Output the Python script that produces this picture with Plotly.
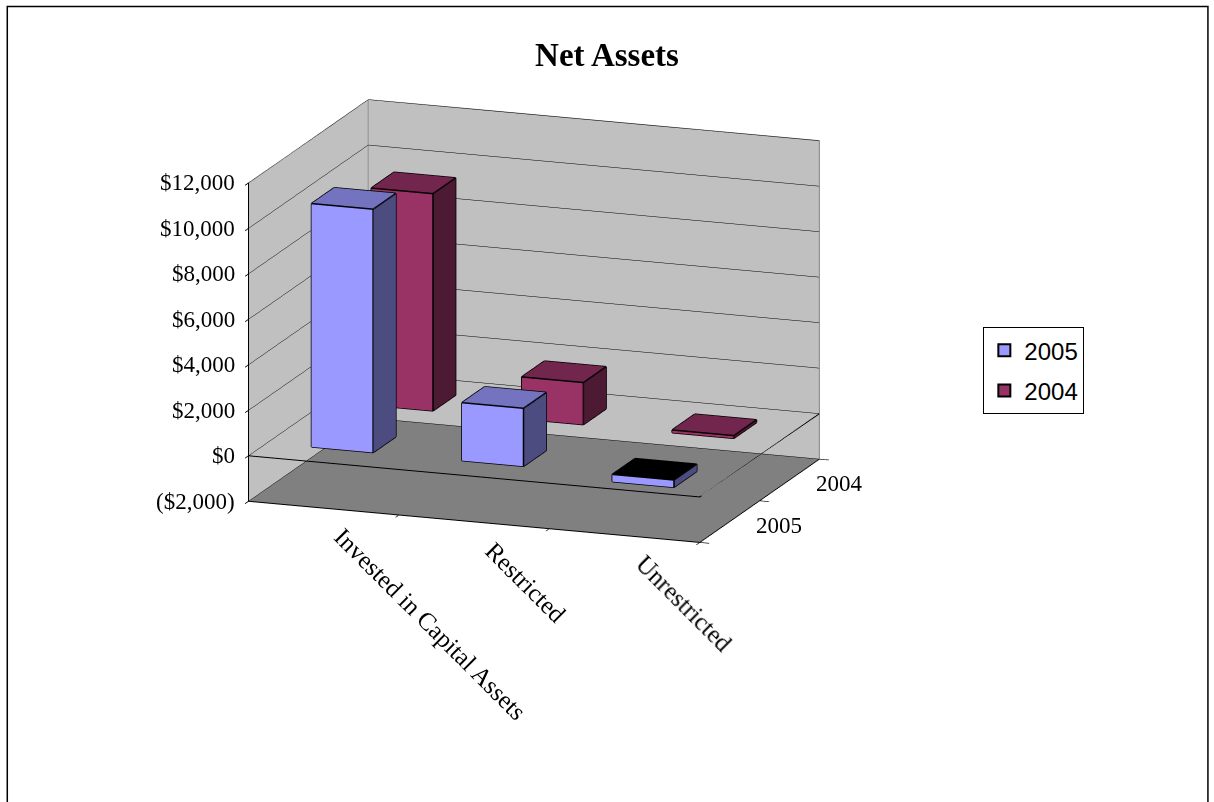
import math
import plotly.graph_objects as go

categories = ["Invested in Capital Assets", "Restricted", "Unrestricted"]
series_names = ["2005", "2004"]
values_2005 = [10700, 2550, -320]
values_2004 = [9550, 1850, 120]
z_tickvals = [-2000, 0, 2000, 4000, 6000, 8000, 10000, 12000]
z_ticktext = ["($2,000)", "$0", "$2,000", "$4,000", "$6,000", "$8,000", "$10,000", "$12,000"]

series_values = [values_2005, values_2004]
front_colors = ["#9999FF", "#993366"]
side_colors = ["#4C4C80", "#4D1A33"]
top_colors = ["#7373BF", "#73264D"]

BAR_W = 0.41
BAR_D = 0.38
SERIF = "Liberation Serif"
XR = [-0.5, len(categories) - 0.5]
YR = [-0.5, len(series_names) - 0.5]
ZR = [z_tickvals[0], z_tickvals[-1]]

fig = go.Figure()


def cuboid(xc, yc, v, front, side, top, neg_top):
    x0, x1 = xc - BAR_W / 2, xc + BAR_W / 2
    y0, y1 = yc - BAR_D / 2, yc + BAR_D / 2
    lo, hi = min(0, v), max(0, v)
    X = [x0, x1, x1, x0, x0, x1, x1, x0]
    Y = [y0, y0, y1, y1, y0, y0, y1, y1]
    Z = [lo, lo, lo, lo, hi, hi, hi, hi]
    tc = neg_top if v < 0 else top
    tris = [
        (0, 1, 2, side), (0, 2, 3, side),
        (4, 5, 6, tc), (4, 6, 7, tc),
        (0, 1, 5, front), (0, 5, 4, front),
        (3, 2, 6, side), (3, 6, 7, side),
        (0, 3, 7, side), (0, 7, 4, side),
        (1, 2, 6, side), (1, 6, 5, side),
    ]
    mesh = go.Mesh3d(
        x=X, y=Y, z=Z,
        i=[t[0] for t in tris], j=[t[1] for t in tris], k=[t[2] for t in tris],
        facecolor=[t[3] for t in tris], flatshading=True,
        lighting=dict(ambient=1, diffuse=0, specular=0, roughness=1, fresnel=0),
        hoverinfo="skip", showlegend=False, showscale=False,
    )
    edges = [(0, 1), (1, 2), (2, 3), (3, 0), (4, 5), (5, 6), (6, 7), (7, 4),
             (0, 4), (1, 5), (2, 6), (3, 7)]
    ex, ey, ez = [], [], []
    for a, b in edges:
        ex += [X[a], X[b], None]
        ey += [Y[a], Y[b], None]
        ez += [Z[a], Z[b], None]
    line = go.Scatter3d(x=ex, y=ey, z=ez, mode="lines",
                        line=dict(color="black", width=3),
                        hoverinfo="skip", showlegend=False)
    return mesh, line


for s, vals in enumerate(series_values):
    for c, v in enumerate(vals):
        m, l = cuboid(c, s, v, front_colors[s], side_colors[s], top_colors[s], "#000000")
        fig.add_trace(m)
        fig.add_trace(l)

# wall borders (gray) and the z=0 axis lines (black)
fig.add_trace(go.Scatter3d(
    x=[XR[0], XR[0], XR[1], XR[1], None, XR[0], XR[0]],
    y=[YR[0], YR[1], YR[1], YR[1], None, YR[1], YR[1]],
    z=[ZR[1], ZR[1], ZR[1], ZR[0], None, ZR[0], ZR[1]],
    mode="lines", line=dict(color="#808080", width=2), hoverinfo="skip", showlegend=False))
fig.add_trace(go.Scatter3d(
    x=[XR[0], XR[1], XR[1]], y=[YR[0], YR[0], YR[1]], z=[0, 0, 0],
    mode="lines", line=dict(color="black", width=2), hoverinfo="skip", showlegend=False))

# legend entries
for s, name in enumerate(series_names):
    fig.add_trace(go.Scatter(x=[None], y=[None], mode="markers", name=name, legendgroup=name,
                             marker=dict(symbol="square", size=16, color=front_colors[s],
                                         line=dict(color="black", width=1.5))))

annos = []
for c, cat in enumerate(categories):
    annos.append(dict(x=c, y=YR[0], z=ZR[0], text=cat, textangle=45, showarrow=False,
                      xanchor="left", yanchor="top", xshift=3, yshift=-12,
                      font=dict(family=SERIF, size=25, color="black")))
for v, t in zip(z_tickvals, z_ticktext):
    annos.append(dict(x=XR[0], y=YR[0], z=v, text=t, showarrow=False,
                      xanchor="right", yanchor="middle", xshift=-12,
                      font=dict(family=SERIF, size=23, color="black")))
for s, name in enumerate(series_names):
    annos.append(dict(x=XR[1], y=s, z=ZR[0], text=name, showarrow=False,
                      xanchor="left", yanchor="middle", xshift=24, yshift=-4,
                      font=dict(family=SERIF, size=23, color="black")))

D = 2.403
th, ph = math.radians(19.9), math.radians(14.6)
eye = dict(x=D * math.sin(th) * math.cos(ph), y=-D * math.cos(th) * math.cos(ph), z=D * math.sin(ph))

fig.update_layout(
    width=1214, height=802,
    margin=dict(l=0, r=0, t=0, b=0),
    paper_bgcolor="white", plot_bgcolor="white",
    xaxis=dict(visible=False), yaxis=dict(visible=False),
    title=dict(text="<b>Net Assets</b>", x=0.5, xanchor="center", y=0.932, yanchor="middle",
               font=dict(family=SERIF, size=33, color="black")),
    legend=dict(x=0.81, y=0.592, xanchor="left", yanchor="top",
                bordercolor="black", borderwidth=1, bgcolor="white",
                font=dict(family="Liberation Sans", size=24, color="black"),
                itemsizing="constant", tracegroupgap=6, itemwidth=30),
    scene=dict(
        domain=dict(x=[0.0, 0.88], y=[0.1996, 1.0]),
        aspectmode="manual", aspectratio=dict(x=1.495, y=1.095, z=1.025),
        camera=dict(eye=eye, center=dict(x=0, y=0, z=0), up=dict(x=0, y=0, z=1),
                    projection=dict(type="orthographic")),
        xaxis=dict(range=XR, tickvals=[-0.5, 0.5, 1.5, 2.5], showticklabels=False,
                   showgrid=False, showbackground=True, backgroundcolor="#C0C0C0",
                   showline=True, linecolor="black", linewidth=2,
                   ticks="outside", tickcolor="black", ticklen=10, tickwidth=2,
                   title=dict(text=""), zeroline=False, showspikes=False),
        yaxis=dict(range=YR, tickvals=[-0.5, 0.5, 1.5], showticklabels=False,
                   showgrid=False, showbackground=True, backgroundcolor="#C0C0C0",
                   showline=True, linecolor="black", linewidth=2,
                   ticks="outside", tickcolor="black", ticklen=10, tickwidth=2,
                   title=dict(text=""), zeroline=False, showspikes=False),
        zaxis=dict(range=ZR, tickvals=z_tickvals, showticklabels=False,
                   showgrid=True, gridcolor="black", gridwidth=1,
                   showbackground=True, backgroundcolor="#808080",
                   showline=True, linecolor="black", linewidth=2,
                   ticks="outside", tickcolor="black", ticklen=10, tickwidth=2,
                   title=dict(text=""), zeroline=False, showspikes=False),
        annotations=annos,
    ),
    shapes=[dict(type="rect", xref="paper", yref="paper", x0=0.006, x1=0.995, y0=-0.5, y1=0.992,
                 line=dict(color="black", width=1.5), fillcolor="rgba(0,0,0,0)", layer="above")],
    showlegend=True,
)

fig.write_html("out.html")
